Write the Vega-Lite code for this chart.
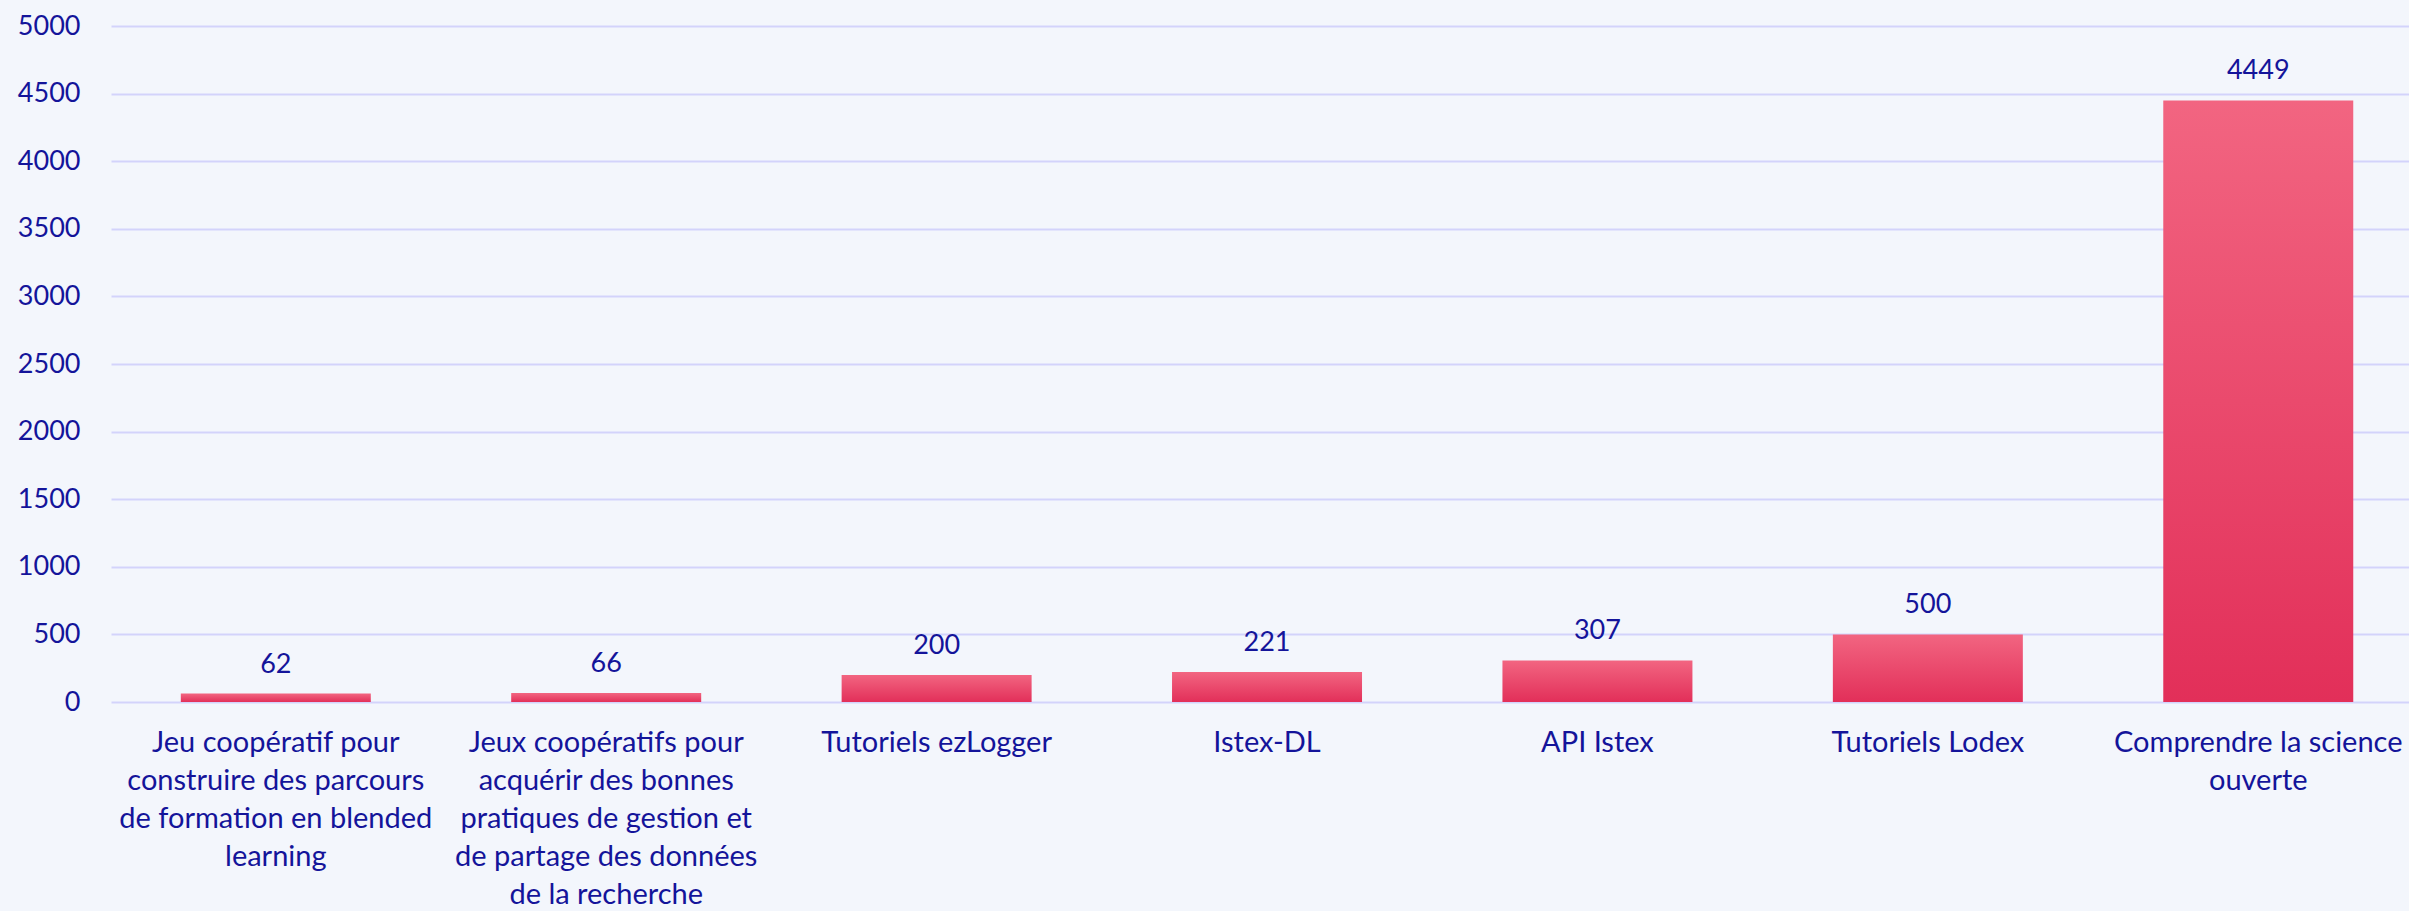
{
  "$schema": "https://vega.github.io/schema/vega-lite/v6.json",
  "width": 2298,
  "height": 676,
  "autosize": "none",
  "padding": {"left": 111, "top": 26, "right": 0, "bottom": 209},
  "background": "#f3f6fc",
  "config": {
    "view": {"stroke": null},
    "font": "Lato",
    "axis": {"labelFont": "Lato", "labelColor": "#14149a", "labelFontSize": 27, "labelLimit": 0, "labelOverlap": false},
    "text": {"font": "Lato"}
  },
  "data": {
    "values": [
      {"cat": "Jeu coopératif pour|construire des parcours|de formation en blended|learning", "value": 62},
      {"cat": "Jeux coopératifs pour|acquérir des bonnes|pratiques de gestion et|de partage des données|de la recherche", "value": 66},
      {"cat": "Tutoriels ezLogger", "value": 200},
      {"cat": "Istex-DL", "value": 221},
      {"cat": "API Istex", "value": 307},
      {"cat": "Tutoriels Lodex", "value": 500},
      {"cat": "Comprendre la science|ouverte", "value": 4449}
    ]
  },
  "encoding": {
    "x": {
      "field": "cat", "type": "nominal", "sort": null,
      "scale": {"paddingInner": 0.425, "paddingOuter": 0.19, "align": 0.556},
      "axis": {
        "title": null, "labelAngle": 0, "domain": false, "ticks": false,
        "labelExpr": "split(datum.label, '|')", "labelFontSize": 29,
        "labelLineHeight": 38, "labelPadding": 26, "labelBaseline": "top"
      }
    },
    "y": {
      "field": "value", "type": "quantitative",
      "scale": {"domain": [0, 5000], "nice": false},
      "axis": {
        "title": null, "format": "d", "values": [0,500,1000,1500,2000,2500,3000,3500,4000,4500,5000],
        "domain": false, "ticks": false, "labelPadding": 31,
        "gridColor": "#d3d3fb", "gridWidth": 2, "gridOpacity": 1
      }
    }
  },
  "layer": [
    {
      "mark": {
        "type": "bar",
        "color": {
          "gradient": "linear", "x1": 0, "y1": 0, "x2": 0, "y2": 1,
          "stops": [
            {"offset": 0, "color": "#f26581"},
            {"offset": 1, "color": "#e22f59"}
          ]
        }
      }
    },
    {
      "mark": {"type": "text", "baseline": "alphabetic", "dy": -21, "fontSize": 27, "color": "#14149a"},
      "encoding": {"text": {"field": "value", "type": "quantitative"}}
    }
  ]
}
